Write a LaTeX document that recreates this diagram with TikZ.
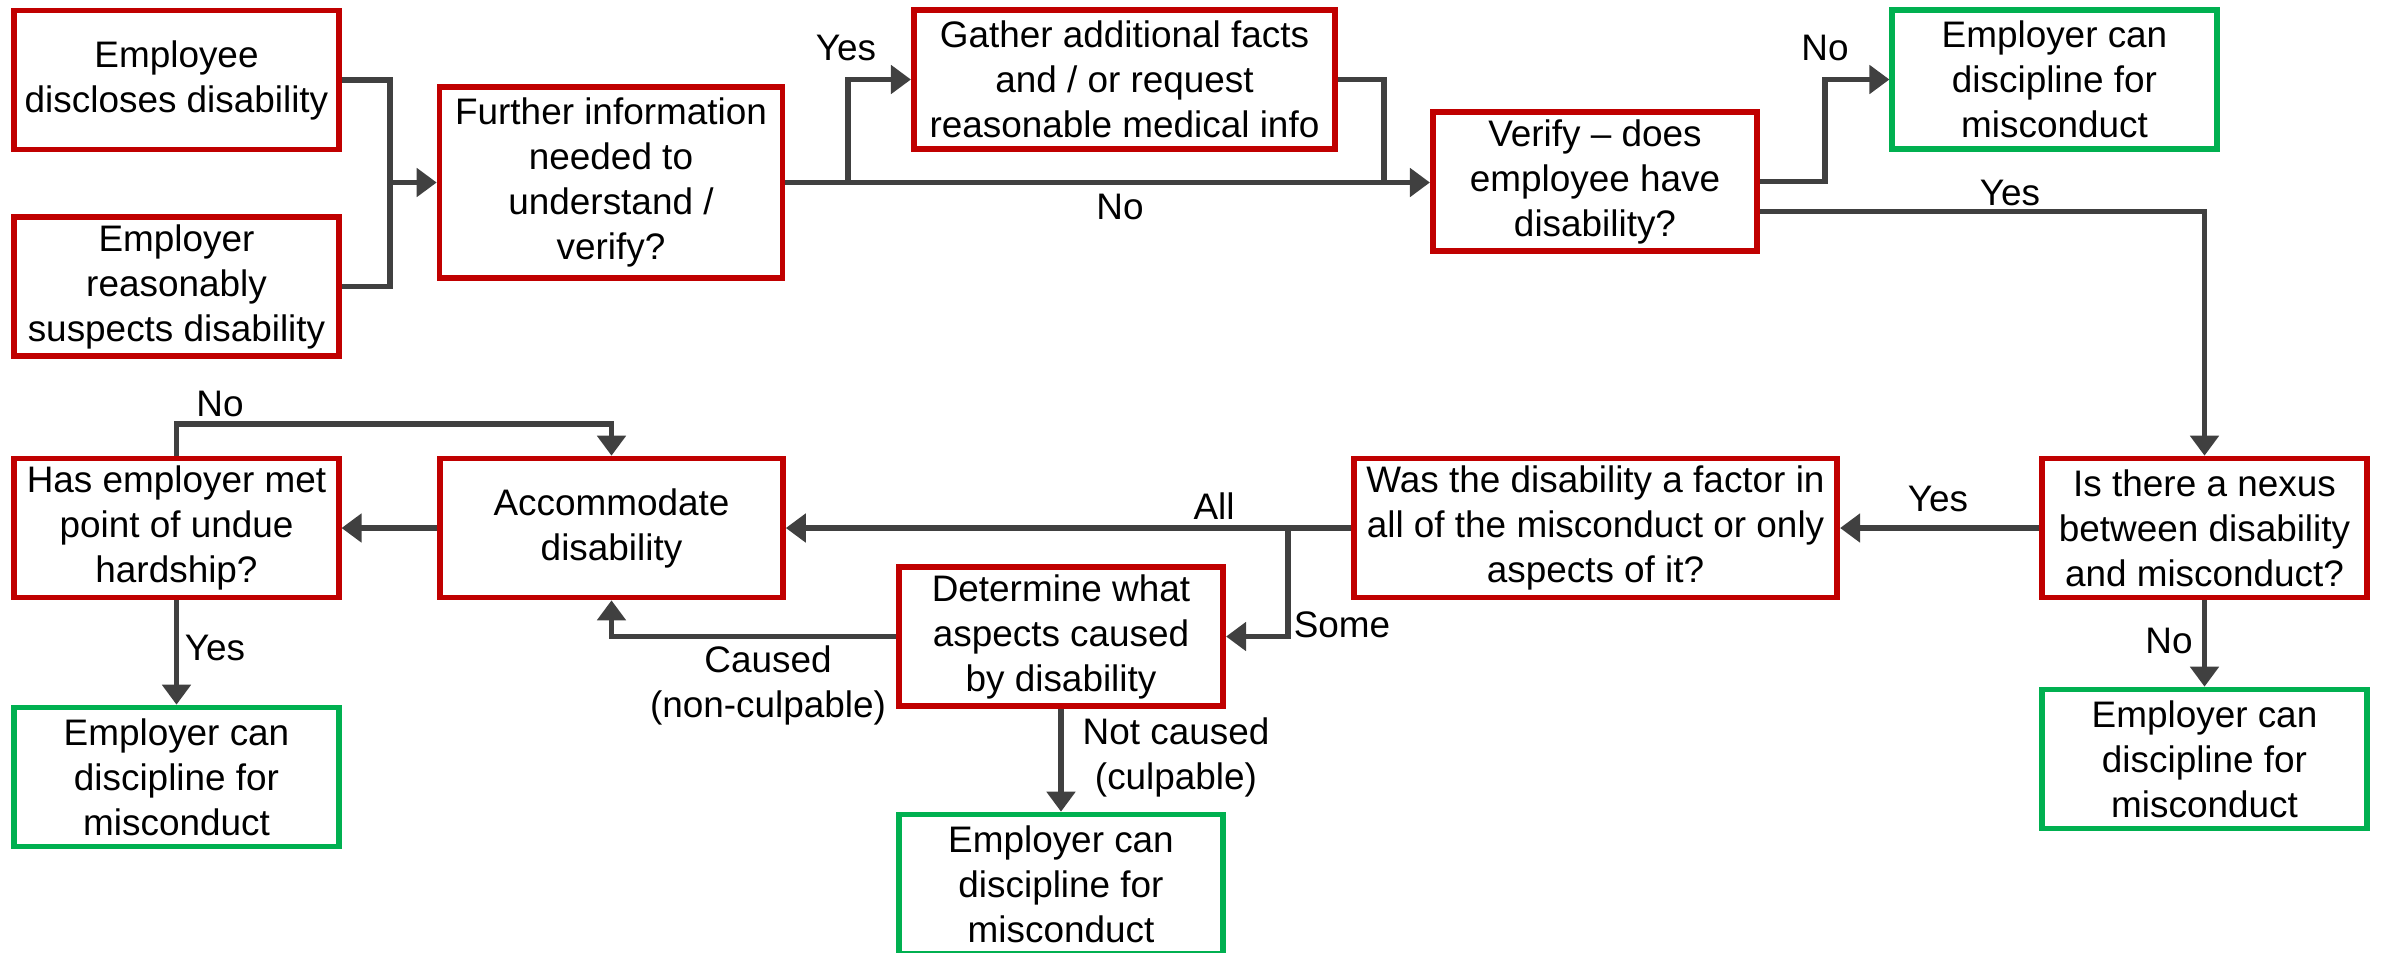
\documentclass[tikz,border=0pt]{standalone}
\usepackage{fontspec}
\setmainfont{Liberation Sans}
\usetikzlibrary{arrows.meta}
\definecolor{boxred}{HTML}{C00000}
\definecolor{boxgreen}{HTML}{00B050}
\definecolor{linegray}{HTML}{404040}
\begin{document}
\begin{tikzpicture}[>={Triangle[length=0.2cm,width=0.28cm]},
  font=\fontsize{10.5}{12.8}\selectfont,
  box/.style={draw,line width=1.6pt,align=center,inner sep=0pt,minimum width=3.245cm,minimum height=1.39cm},
  redbox/.style={box,draw=boxred},
  greenbox/.style={box,draw=boxgreen},
  link/.style={linegray,line width=1.5pt}]
\useasboundingbox (0,0) rectangle (23.81,-9.52);
\node[redbox] (emp) at (1.765,-0.80) {Employee\\discloses disability};
\node[redbox] (empr) at (1.765,-2.865) {Employer\\reasonably\\suspects disability};
\node[redbox,minimum width=3.43cm,minimum height=1.915cm] (further) at (6.11,-1.825) {Further information\\needed to\\understand /\\verify?};
\node[redbox,minimum width=4.215cm] (gather) at (11.245,-0.795) {Gather additional facts\\and / or request\\reasonable medical info};
\node[redbox] (verify) at (15.95,-1.815) {Verify -- does\\employee have\\disability?};
\node[greenbox] (green1) at (20.545,-0.795) {Employer can\\discipline for\\misconduct};
\node[redbox] (nexus) at (22.045,-5.28) {Is there a nexus\\between disability\\and misconduct?};
\node[greenbox] (green2) at (22.045,-7.59) {Employer can\\discipline for\\misconduct};
\node[redbox,minimum width=4.835cm] (was) at (15.955,-5.28) {Was the disability a factor in\\all of the misconduct or only\\aspects of it?};
\node[redbox] (determine) at (10.61,-6.365) {Determine what\\aspects caused\\by disability};
\node[greenbox] (green3) at (10.61,-8.84) {Employer can\\discipline for\\misconduct};
\node[redbox,minimum width=3.43cm] (accommodate) at (6.115,-5.28) {Accommodate\\disability};
\node[redbox] (has) at (1.765,-5.28) {Has employer met\\point of undue\\hardship?};
\node[greenbox] (green4) at (1.765,-7.77) {Employer can\\discipline for\\misconduct};
\coordinate (J1) at (3.90,-1.825);
\coordinate (Y1) at (8.48,-1.825);
\coordinate (J2) at (13.84,-1.825);
\coordinate (N1) at (18.25,-1.815);
\coordinate (V2) at ([yshift=-0.3cm]verify.east);
\coordinate (S1) at (12.88,-5.28);
\coordinate (H1) at (1.765,-4.24);
\draw[link] (emp.east) -| (J1);
\draw[link] (empr.east) -| (J1);
\draw[link,->] (J1) -- (further.west);
\draw[link,->] (further.east) -- (further.east -| verify.west);
\draw[link,->] (Y1) |- (gather.west);
\draw[link] (gather.east) -| (J2);
\draw[link,->] (verify.east) -- (N1) |- (green1.west);
\draw[link,->] (V2) -| (nexus.north);
\draw[link,->] (nexus.west) -- (was.east);
\draw[link,->] (nexus.south) -- (green2.north);
\draw[link,->] (was.west) -- (accommodate.east);
\draw[link,->] (S1) |- (determine.east);
\draw[link,->] (accommodate.west) -- (has.east);
\draw[link,->] (has.north) -- (H1) -| (accommodate.north);
\draw[link,->] (has.south) -- (green4.north);
\draw[link,->] (determine.west) -| (accommodate.south);
\draw[link,->] (determine.south) -- (green3.north);
\node (lyes1) at (8.46,-0.48) {Yes};
\node (lno1) at (11.20,-2.07) {No};
\node (lno2) at (18.25,-0.48) {No};
\node (lyes2) at (20.10,-1.93) {Yes};
\node (lyes3) at (19.38,-4.99) {Yes};
\node (lno3) at (21.69,-6.41) {No};
\node (lall) at (12.14,-5.06) {All};
\node (lsome) at (13.42,-6.25) {Some};
\node (lno4) at (2.20,-4.04) {No};
\node (lyes4) at (2.15,-6.48) {Yes};
\node[align=center] (lcaused) at (7.68,-6.855) {Caused\\(non-culpable)};
\node[align=center] (lnotc) at (11.76,-7.575) {Not caused\\(culpable)};
\end{tikzpicture}
\end{document}
